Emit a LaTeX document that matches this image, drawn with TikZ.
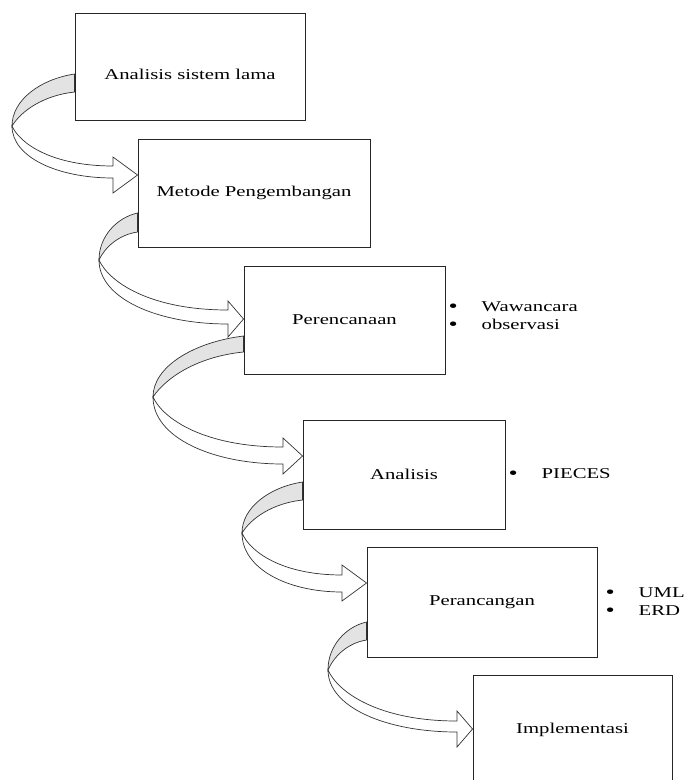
\documentclass[tikz,border=0pt]{standalone}
\usepackage{fontspec}
\setmainfont{Liberation Serif}[FakeStretch=1.38]
\usetikzlibrary{calc,positioning}

\newcommand\bul[1]{\makebox[33pt][l]{\raisebox{-1pt}{\fontsize{19}{15}\selectfont\textbullet}}#1}

\tikzset{
    stage/.style={draw=black!85, line width=0.9pt, fill=white,
        minimum width=#1, minimum height=108pt, inner sep=0pt},
    back/.style={fill=gray!22, draw=black!80, line width=0.7pt},
    front/.style={fill=white, draw=black!80, line width=0.7pt},
    note/.style={anchor=west, inner sep=0pt, align=left}
}

\begin{document}
\begin{tikzpicture}[x=1pt, y=-1pt, font=\fontsize{15}{18}\selectfont]
    \useasboundingbox (0,0) rectangle (684,780);
    \clip (0,0) rectangle (684,780);

    \node[stage=230pt, minimum height=107pt,
        label={[name=t1, yshift=-8pt]center:Analisis sistem lama}] (b1) at (190,66.5) {};
    \node[stage=232pt] (b2) at (254,193) {Metode Pengembangan};
    \node[stage=201pt] (b3) at (344.5,320) {Perencanaan};
    \node[stage=202pt, minimum height=109pt] (b4) at (404,474.5) {Analisis};
    \node[stage=230pt, minimum height=110pt] (b5) at (482,602) {Perancangan};
    \node[stage=199pt, minimum height=110pt] (b6) at (572.5,730) {Implementasi};

    % bent arrows from box to box
    \foreach \from/\to/\bx/\bt/\bb/\lx/\ly/\hx/\su/\sl/\ty in {
        b1/b2/75/74/92/12/126/113/166/178/175,
        b2/b3/138/213/232/99/260/228/310/324/319,
        b3/b4/244/336/352/153/397/283/447/464/456,
        b4/b5/303/482/500/242/533/342/575/592/583,
        b5/b6/367/622/640/328/670/457/721/732/729}
    {
        \draw[back] (\from.west |- 0,\bt)
            .. controls ({\bx-0.55*(\bx-\lx)},{\bt+0.1*(\ly-\bt)}) and (\lx,{\ly-0.5*(\ly-\bt)}) .. (\lx,\ly)
            .. controls ({\lx+0.15*(\bx-\lx)},{\ly-0.45*(\ly-\bb)}) and ({\bx-0.5*(\bx-\lx)},{\bb+0.1*(\ly-\bb)}) .. (\from.west |- 0,\bb)
            -- cycle;
        \draw[front] (\lx,\ly)
            .. controls (\lx,{\ly+0.6*(\sl-\ly)}) and ({\lx+0.45*(\hx-\lx)},\sl) .. (\hx,\sl)
            -- (\hx,{\ty+18}) -- (\to.west |- 0,\ty) -- (\hx,{\ty-18}) -- (\hx,\su)
            .. controls ({\lx+0.4*(\hx-\lx)},\su) and ({\lx+0.08*(\hx-\lx)},{\ly+0.45*(\su-\ly)}) .. (\lx,\ly)
            -- cycle;
    }

    \node[note] (w) at (448.5,316) {\bul{Wawancara}\\\bul{observasi}};
    \node[note] (p) at (508.5,474) {\bul{PIECES}};
    \node[note] (u) at (605.5,602) {\bul{UML}\\\bul{ERD}};
\end{tikzpicture}
\end{document}
